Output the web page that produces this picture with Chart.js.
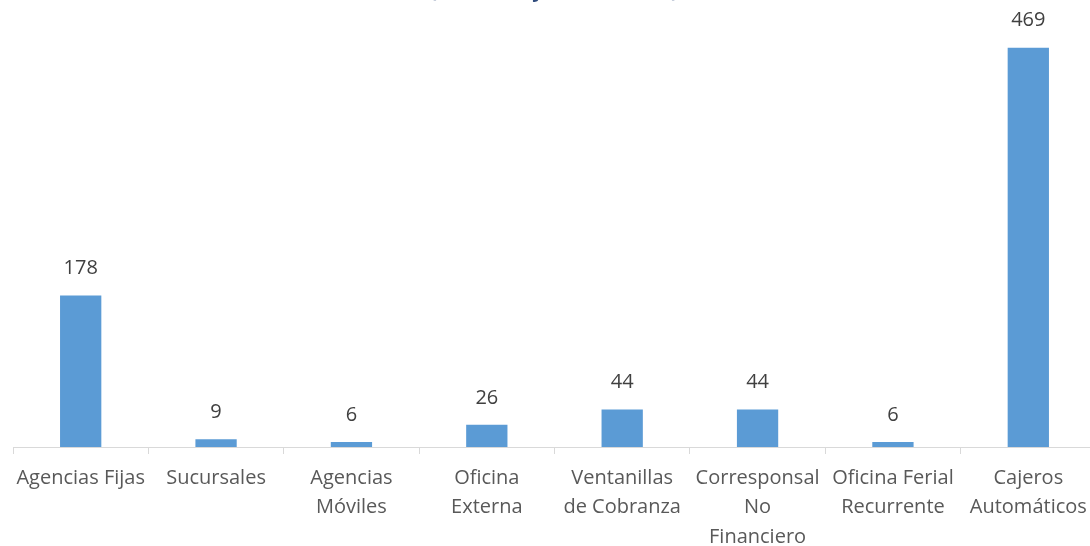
<!DOCTYPE html>
<html lang="es">
<head>
  <meta charset="UTF-8">
  <title>Puntos de atención</title>
  <script src="https://cdn.jsdelivr.net/npm/chart.js"></script>
  <style>
    html, body { margin: 0; padding: 0; background: #fff; overflow: hidden; }
    #wrap { width: 1090px; height: 546px; overflow: hidden; }
  </style>
</head>
<body>
<div id="wrap"><canvas id="chart" width="1096" height="546"></canvas></div>

<script>
  const categories = [
    ['Agencias Fijas'], ['Sucursales'], ['Agencias', 'Móviles'], ['Oficina', 'Externa'],
    ['Ventanillas', 'de Cobranza'], ['Corresponsal', 'No', 'Financiero'],
    ['Oficina Ferial', 'Recurrente'], ['Cajeros', 'Automáticos']
  ];
  const values = [178, 9, 6, 26, 44, 44, 6, 469];
  const titleText = '(Cantidad y Distribución)';

  const FONT = '"Open Sans", "DejaVu Sans", sans-serif';

  // value above each bar
  const barLabels = {
    id: 'barLabels',
    afterDatasetsDraw(chart) {
      const ctx = chart.ctx;
      ctx.save();
      ctx.font = '20px ' + FONT;
      ctx.fillStyle = '#404040';
      ctx.textAlign = 'center';
      ctx.textBaseline = 'middle';
      chart.getDatasetMeta(0).data.forEach((bar, i) => {
        ctx.fillText(values[i], bar.x, bar.y - 27);
      });
      ctx.restore();
    }
  };

  // title sits mostly above the picture, only its bottom shows
  const topTitle = {
    id: 'topTitle',
    afterDraw(chart) {
      const ctx = chart.ctx;
      ctx.save();
      ctx.font = 'bold 20px ' + FONT;
      ctx.fillStyle = '#2f4b7c';
      ctx.textAlign = 'center';
      ctx.textBaseline = 'alphabetic';
      ctx.fillText(titleText, 554, -3);
      ctx.restore();
    }
  };

  new Chart(document.getElementById('chart'), {
    type: 'bar',
    data: {
      labels: categories,
      datasets: [{
        data: values,
        backgroundColor: '#5b9bd5',
        barPercentage: 0.305,
        categoryPercentage: 1
      }]
    },
    options: {
      responsive: false,
      animation: false,
      layout: { padding: { left: 13, right: 0, top: 0, bottom: 0 } },
      plugins: {
        legend: { display: false },
        tooltip: { enabled: false }
      },
      scales: {
        y: { display: false, min: 0, max: 525 },
        x: {
          afterFit(scale) { scale.height = 99; },
          grid: { drawOnChartArea: false, drawTicks: true, tickLength: 7, color: '#d9d9d9', offset: true },
          border: { color: '#d9d9d9' },
          ticks: {
            color: '#595959',
            font: { family: FONT, size: 20, lineHeight: 1.48 },
            maxRotation: 0,
            autoSkip: false,
            padding: 9
          }
        }
      }
    },
    plugins: [barLabels, topTitle]
  });
</script>
</body>
</html>
